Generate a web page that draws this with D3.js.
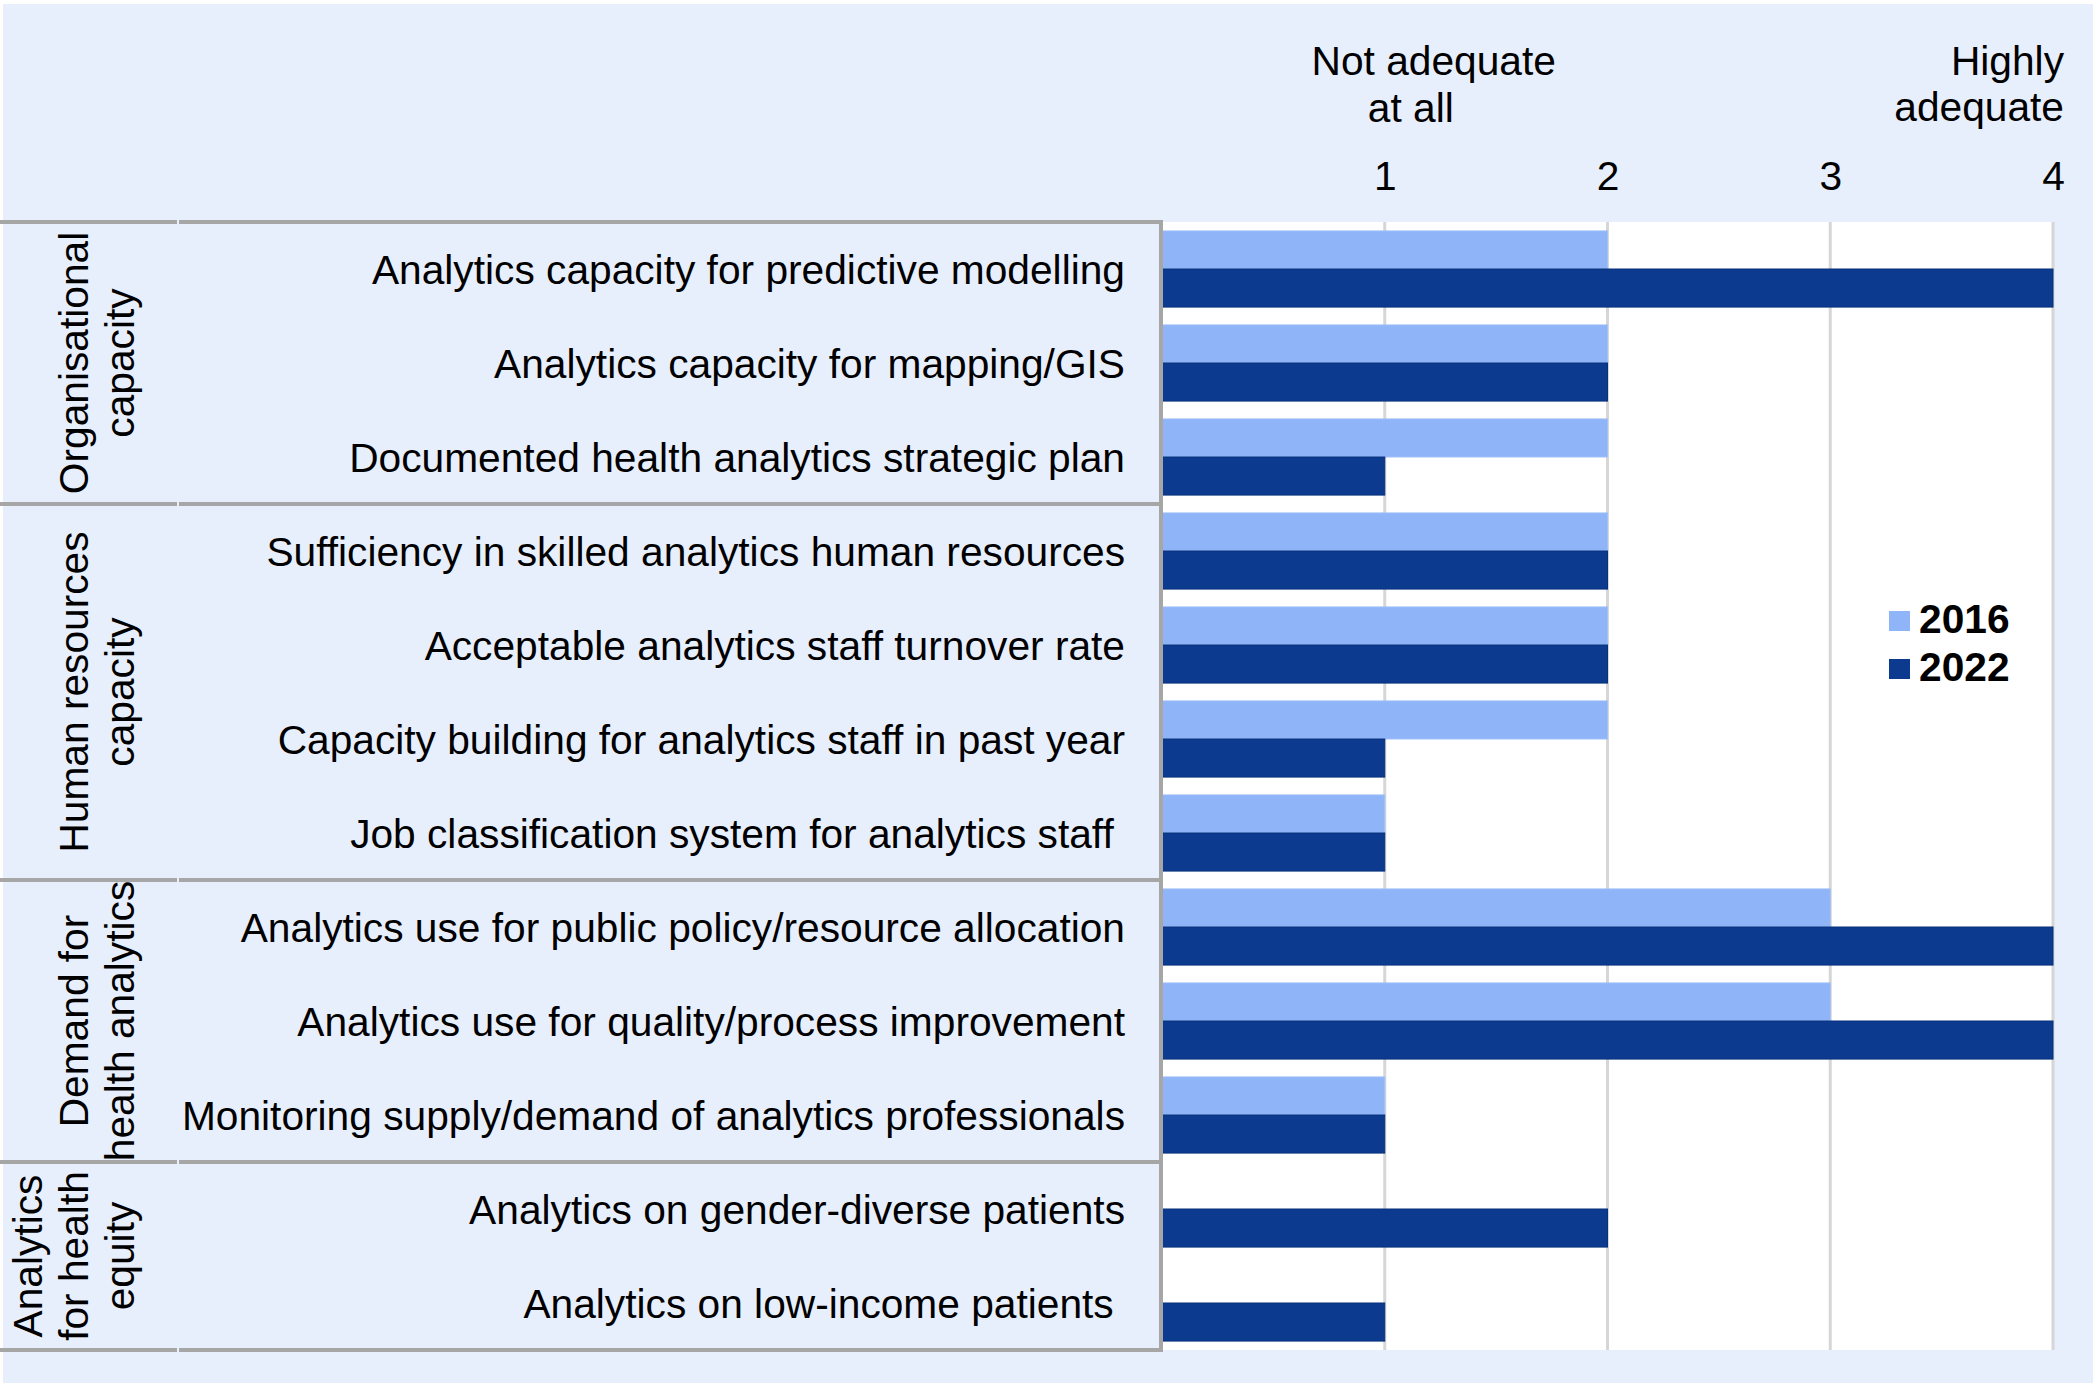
<!DOCTYPE html>
<html>
<head>
<meta charset="utf-8">
<script src="https://cdn.jsdelivr.net/npm/d3@7"></script>
<style>
  body { margin: 0; background: #fff; }
  text { font-family: "Liberation Sans", Arial, sans-serif; fill: #000; }
</style>
</head>
<body>
<div id="container"></div>
<script>
const categories = [
  "Analytics capacity for predictive modelling",
  "Analytics capacity for mapping/GIS",
  "Documented health analytics strategic plan",
  "Sufficiency in skilled analytics human resources",
  "Acceptable analytics staff turnover rate",
  "Capacity building for analytics staff in past year",
  "Job classification system for analytics staff ",
  "Analytics use for public policy/resource allocation",
  "Analytics use for quality/process improvement",
  "Monitoring supply/demand of analytics professionals",
  "Analytics on gender-diverse patients",
  "Analytics on low-income patients "
];
const groupLabels = [
  ["Organisational", "capacity"],
  ["Human resources", "capacity"],
  ["Demand for", "health analytics"],
  ["Analytics", "for health", "equity"]
];
const groupSizes = [3, 4, 3, 2];
const years = ["2016", "2022"];
const values2016 = [2, 2, 2, 2, 2, 2, 1, 3, 3, 1, null, null];
const values2022 = [4, 2, 1, 2, 2, 1, 1, 4, 4, 1, 2, 1];
const tickValues = [1, 2, 3, 4];
const scaleLow = ["Not adequate", "at all"];
const scaleHigh = ["Highly", "adequate"];

const width = 2100;
const height = 1387;
const colors = {"2016": "#8fb4f8", "2022": "#0b3a8f"};
const strokes = {"2016": "#9fc0f9", "2022": "#08317c"};
const plot = {top: 222, bot: 1350, left: 1162, right: 2053};
const fontSize = 40.7;

const svg = d3.select("#container")
              .append("svg")
              .attr("width", width)
              .attr("height", height);

svg.append("rect")
   .attr("x", 3)
   .attr("y", 4)
   .attr("width", 2090)
   .attr("height", 1379)
   .style("fill", "#e8effc");

const xScale = d3.scaleLinear()
                 .domain([0, 4])
                 .range([plot.left, plot.right]);
const yScale = d3.scaleBand()
                 .domain(categories)
                 .range([plot.top, plot.bot])
                 .paddingInner(0.19)
                 .paddingOuter(0.095);
const yInner = d3.scaleBand()
                 .domain(years)
                 .range([0, yScale.bandwidth()]);

// white plot area
svg.append("rect")
   .attr("x", xScale(0))
   .attr("y", plot.top)
   .attr("width", xScale(4) - xScale(0) + 1)
   .attr("height", plot.bot - plot.top)
   .style("fill", "#fff");

// grid lines
svg.append("g")
   .selectAll("line")
   .data(tickValues)
   .enter()
   .append("line")
   .attr("x1", (d) => xScale(d))
   .attr("x2", (d) => xScale(d))
   .attr("y1", plot.top)
   .attr("y2", plot.bot)
   .style("stroke", "#d6d6d6")
   .style("stroke-width", 3);

// top axis tick labels
const xAxis = d3.axisTop(xScale)
                .tickValues(tickValues)
                .tickFormat(d3.format("d"))
                .tickSize(0)
                .tickPadding(plot.top - 190);
const axisG = svg.append("g")
                 .attr("transform", "translate(0, " + plot.top + ")")
                 .call(xAxis);
axisG.select(".domain").remove();
axisG.selectAll("text")
     .attr("dy", "0")
     .style("font-size", fontSize + "px")
     .style("font-family", "'Liberation Sans', Arial, sans-serif");

// scale end annotations
svg.append("g")
   .selectAll("text")
   .data(scaleLow)
   .enter()
   .append("text")
   .text((d) => d)
   .attr("x", (d, i) => xScale(1) + (i === 0 ? 49 : 26))
   .attr("y", (d, i) => 75 + i * 47)
   .attr("text-anchor", "middle")
   .style("font-size", fontSize + "px");
svg.append("g")
   .selectAll("text")
   .data(scaleHigh)
   .enter()
   .append("text")
   .text((d) => d)
   .attr("x", xScale(4) + 11)
   .attr("y", (d, i) => 75 + i * 46)
   .attr("text-anchor", "end")
   .style("font-size", fontSize + "px");

// bars
const rows = categories.map((c, i) => ({cat: c, "2016": values2016[i], "2022": values2022[i]}));
const barData = [];
rows.forEach((r) => {
  years.forEach((y) => {
    if (r[y] != null) barData.push({cat: r.cat, year: y, value: r[y]});
  });
});
svg.append("g")
   .selectAll("rect")
   .data(barData)
   .enter()
   .append("rect")
   .attr("x", xScale(0))
   .attr("y", (d) => yScale(d.cat) + yInner(d.year))
   .attr("width", (d) => xScale(d.value) - xScale(0))
   .attr("height", yInner.bandwidth())
   .style("fill", (d) => colors[d.year])
   .style("stroke", (d) => strokes[d.year])
   .style("stroke-width", 1);

// category labels
svg.append("g")
   .selectAll("text")
   .data(categories)
   .enter()
   .append("text")
   .text((d) => d)
   .attr("x", 1125)
   .attr("y", (d) => yScale(d) + yScale.bandwidth() / 2)
   .attr("dy", "0.36em")
   .attr("text-anchor", "end")
   .style("white-space", "pre")
   .style("font-size", fontSize + "px");

// group table borders
const bounds = [0];
groupSizes.forEach((s) => bounds.push(bounds[bounds.length - 1] + s));
const boundY = (idx) => yScale.range()[0] + idx * yScale.step();
const table = svg.append("g");
table.selectAll("line.h1")
     .data(bounds)
     .enter()
     .append("line")
     .attr("class", "h1")
     .attr("x1", 0)
     .attr("x2", 177)
     .attr("y1", (d) => boundY(d))
     .attr("y2", (d) => boundY(d))
     .style("stroke", "#a6a6a6")
     .style("stroke-width", 4);
table.selectAll("line.h2")
     .data(bounds)
     .enter()
     .append("line")
     .attr("class", "h2")
     .attr("x1", 179)
     .attr("x2", plot.left + 1)
     .attr("y1", (d) => boundY(d))
     .attr("y2", (d) => boundY(d))
     .style("stroke", "#a6a6a6")
     .style("stroke-width", 4);
table.append("line")
     .attr("x1", plot.left - 1)
     .attr("x2", plot.left - 1)
     .attr("y1", boundY(0) - 2)
     .attr("y2", boundY(categories.length) + 2)
     .style("stroke", "#a6a6a6")
     .style("stroke-width", 4);

// rotated group labels
groupLabels.forEach((lines, g) => {
  const cy = (boundY(bounds[g]) + boundY(bounds[g + 1])) / 2;
  lines.forEach((line, j) => {
    const xb = 134 - (lines.length - 1 - j) * 46;
    svg.append("text")
       .text(line)
       .attr("transform", "translate(" + xb + ", " + cy + ") rotate(-90)")
       .attr("text-anchor", "middle")
       .style("font-size", fontSize + "px");
  });
});

// legend
const legend = svg.append("g")
                  .selectAll("g")
                  .data(years)
                  .enter()
                  .append("g")
                  .attr("transform", (d, i) => "translate(1889, " + (611 + i * 48) + ")");
legend.append("rect")
      .attr("width", 21)
      .attr("height", 20)
      .style("fill", (d) => colors[d]);
legend.append("text")
      .text((d) => d)
      .attr("x", 30)
      .attr("y", 22)
      .style("font-size", fontSize + "px")
      .style("font-weight", "bold");
</script>
</body>
</html>
